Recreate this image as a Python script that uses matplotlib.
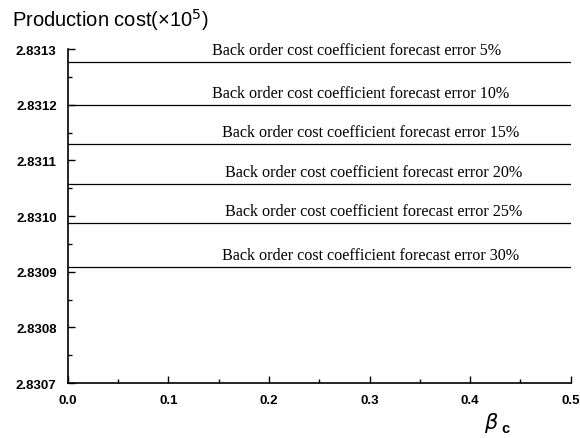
import matplotlib
matplotlib.use('Agg')
import matplotlib.pyplot as plt
from matplotlib.ticker import MultipleLocator, FormatStrFormatter

# forecast error of the back order cost coefficient and resulting production cost (x1e5)
errors = ['5%', '10%', '15%', '20%', '25%', '30%']
cost = [2.831277, 2.831200, 2.831129, 2.831058, 2.830988, 2.830908]
beta_c = [0.0, 0.5]
label_x = [0.143, 0.143, 0.153, 0.156, 0.156, 0.153]

fig = plt.figure(figsize=(5.8, 4.39), dpi=100, facecolor='white')
ax = fig.add_axes([0.117, 0.125, 0.867, 0.761])

for err, c, lx in zip(errors, cost, label_x):
    ax.plot(beta_c, [c, c], color='black', lw=0.9)
    ax.text(lx, c + 0.000007, 'Back order cost coefficient forecast error ' + err,
            family='Liberation Serif', fontsize=11.6, color='black',
            ha='left', va='bottom')

ax.set_xlim(0, 0.5)
ax.set_ylim(2.8307, 2.8313)
ax.xaxis.set_major_locator(MultipleLocator(0.1))
ax.xaxis.set_minor_locator(MultipleLocator(0.05))
ax.yaxis.set_major_locator(MultipleLocator(0.0001))
ax.yaxis.set_minor_locator(MultipleLocator(0.00005))
ax.xaxis.set_major_formatter(FormatStrFormatter('%.1f'))
ax.yaxis.set_major_formatter(FormatStrFormatter('%.4f'))

ax.spines['top'].set_visible(False)
ax.spines['right'].set_visible(False)
ax.spines['left'].set_linewidth(1.2)
ax.spines['bottom'].set_linewidth(1.2)
ax.tick_params(which='both', direction='in', width=1.0)
ax.tick_params(which='major', length=5)
ax.tick_params(which='minor', length=3)
for lab in ax.get_xticklabels() + ax.get_yticklabels():
    lab.set_family('Liberation Sans')
    lab.set_fontweight('bold')
    lab.set_fontsize(9.5)
ax.tick_params(axis='y', pad=8)
ax.tick_params(axis='x', pad=8)

fig.text(0.02, 0.955, 'Production cost(\u00d710$^5$)', family='Liberation Sans',
         fontsize=14.5, ha='left', va='center')
fig.text(0.835, 0.008, r'$\beta$', fontsize=15, ha='left', va='bottom')
fig.text(0.865, 0.006, 'c', family='Liberation Sans', fontweight='bold',
         fontsize=10.5, ha='left', va='bottom')

fig.savefig('out.png', dpi=100, facecolor='white')
